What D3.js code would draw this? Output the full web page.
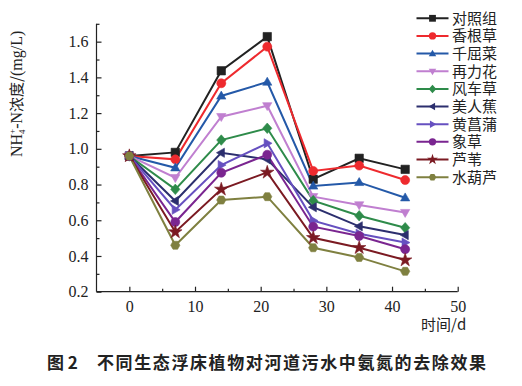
<!DOCTYPE html>
<html><head><meta charset="utf-8">
<script src="https://cdn.jsdelivr.net/npm/d3@7"></script>
<style>body{margin:0;background:#fff}svg{display:block}</style>
</head><body>
<svg id="c" width="522" height="386"></svg>
<script>
const days = [0, 7, 14, 21, 28, 35, 42];
const seriesNames = ["对照组","香根草","千屈菜","再力花","风车草","美人蕉","黄菖蒲","象草","芦苇","水葫芦"];
const s对照组 = [0.96, 0.98, 1.437, 1.628, 0.83, 0.947, 0.885];
const s香根草 = [0.96, 0.941, 1.367, 1.572, 0.876, 0.906, 0.825];
const s千屈菜 = [0.96, 0.894, 1.296, 1.374, 0.792, 0.812, 0.726];
const s再力花 = [0.96, 0.838, 1.18, 1.241, 0.732, 0.686, 0.643];
const s风车草 = [0.96, 0.773, 1.049, 1.115, 0.71, 0.625, 0.558];
const s美人蕉 = [0.96, 0.708, 0.978, 0.941, 0.673, 0.566, 0.517];
const s黄菖蒲 = [0.96, 0.659, 0.909, 1.031, 0.598, 0.525, 0.475];
const s象草 = [0.96, 0.59, 0.866, 0.967, 0.564, 0.512, 0.438];
const s芦苇 = [0.96, 0.534, 0.773, 0.868, 0.502, 0.446, 0.377];
const s水葫芦 = [0.96, 0.46, 0.713, 0.732, 0.446, 0.392, 0.314];
const seriesValues = [s对照组,s香根草,s千屈菜,s再力花,s风车草,s美人蕉,s黄菖蒲,s象草,s芦苇,s水葫芦];
const xTicks = [0,10,20,30,40,50];
const yTicks = [0.2,0.4,0.6,0.8,1.0,1.2,1.4,1.6];
const colors = ["#222222","#ee2a2e","#2459a8","#c07fd0","#2e8b4a","#2c2f6e","#6650c0","#7a2590","#7b1a22","#7f8040"];
const shapes = ["square","circle","triUp","triDown","diamond","triLeft","triRight","circle","star","hex"];

const svg = d3.select("#c");
const x = d3.scaleLinear().domain([-5, 50]).range([96.5, 457.7]);
const y = d3.scaleLinear().domain([0.2, 1.7]).range([291.7, 23.8]);
const numFont = "'Liberation Serif','Times New Roman',serif";
const cjkFont = "'Noto Sans CJK SC',sans-serif";

function shapePath(type, r) {
  switch (type) {
    case "square": return `M${-r},${-r}H${r}V${r}H${-r}Z`;
    case "circle": return d3.symbol(d3.symbolCircle, Math.PI*r*r*1.15)();
    case "triUp": return `M0,${-r*1.15}L${r*1.1},${r*0.75}L${-r*1.1},${r*0.75}Z`;
    case "triDown": return `M0,${r*1.15}L${r*1.1},${-r*0.75}L${-r*1.1},${-r*0.75}Z`;
    case "triLeft": return `M${-r*1.15},0L${r*0.75},${r*1.1}L${r*0.75},${-r*1.1}Z`;
    case "triRight": return `M${r*1.15},0L${-r*0.75},${r*1.1}L${-r*0.75},${-r*1.1}Z`;
    case "diamond": return `M0,${-r*1.25}L${r*1.1},0L0,${r*1.25}L${-r*1.1},0Z`;
    case "star": return d3.symbol(d3.symbolStar, r*r*3.2)();
    case "hex": {
      let p = [];
      for (let i = 0; i < 6; i++) { const a = Math.PI/3*i; p.push([r*1.1*Math.cos(a), r*1.1*Math.sin(a)]); }
      return "M" + p.map(d=>d.join(",")).join("L") + "Z";
    }
  }
}

// axes
const xAxis = d3.axisBottom(x).tickValues(xTicks).tickSize(-5).tickPadding(9).tickFormat(d3.format("d"));
const gx = svg.append("g").attr("transform", "translate(0,291.7)").call(xAxis);
gx.select(".domain").attr("d", `M96.5,0H457.7`);
const xMinor = d3.axisBottom(x).tickValues([5,15,25,35,45]).tickSize(-3).tickFormat("");
const gxm = svg.append("g").attr("transform", "translate(0,291.7)").call(xMinor);
gxm.select(".domain").remove();

const yAxis = d3.axisLeft(y).tickValues(yTicks).tickSize(-5).tickPadding(8).tickFormat(d3.format(".1f"));
const gy = svg.append("g").attr("transform", "translate(96.5,0)").call(yAxis);
gy.select(".domain").attr("d", `M0,${y(0.2)}V${y(1.7)}`);
const yMinor = d3.axisLeft(y).tickValues([0.3,0.5,0.7,0.9,1.1,1.3,1.5,1.7]).tickSize(-3).tickFormat("");
const gym = svg.append("g").attr("transform", "translate(96.5,0)").call(yMinor);
gym.select(".domain").remove();

svg.selectAll(".tick line, .domain").attr("stroke", "#222").attr("stroke-width", 1.2);
svg.selectAll(".tick text").attr("font-family", numFont).attr("font-size", 16).attr("fill", "#222");

// lines
const line = d3.line().x((d,i)=>x(days[i])).y(d=>y(d));
seriesValues.forEach((vals, k) => {
  svg.append("path").datum(vals).attr("d", line).attr("fill", "none")
    .attr("stroke", colors[k]).attr("stroke-width", 2);
});
seriesValues.forEach((vals, k) => {
  svg.append("g").selectAll("path").data(vals).join("path")
    .attr("transform", (d,i)=>`translate(${x(days[i])},${y(d)})`)
    .attr("d", shapePath(shapes[k], 4.2)).attr("fill", colors[k]).attr("stroke", colors[k]).attr("stroke-width", 0.6);
});

// legend
const lg = svg.append("g");
seriesNames.forEach((name, k) => {
  const yy = 18.3 + k * 17.65;
  lg.append("line").attr("x1", 416.5).attr("x2", 448.5).attr("y1", yy).attr("y2", yy)
    .attr("stroke", colors[k]).attr("stroke-width", 2);
  lg.append("path").attr("transform", `translate(432.5,${yy})`).attr("d", shapePath(shapes[k], 3.4))
    .attr("fill", colors[k]);
  lg.append("text").attr("x", 452).attr("y", yy + 5.5).text(name)
    .attr("font-family", cjkFont).attr("font-size", 15).attr("fill", "#222");
});

// axis labels
svg.append("text").attr("x", 421).attr("y", 330).text("时间/d")
  .attr("font-family", cjkFont).attr("font-size", 15).attr("fill", "#222");

const yl = svg.append("text").attr("transform", "translate(22,157) rotate(-90)")
  .attr("font-family", cjkFont).attr("font-size", 15).attr("fill", "#222");
yl.append("tspan").attr("font-family", numFont).attr("font-size", 16).text("NH");
yl.append("tspan").attr("font-family", numFont).attr("font-size", 9).attr("dy", 3).text("4");
yl.append("tspan").attr("font-family", numFont).attr("font-size", 9).attr("dx", -4.5).attr("dy", -10).text("+");
yl.append("tspan").attr("font-family", numFont).attr("font-size", 16).attr("dy", 7).text("-N");
yl.append("tspan").text("浓度/");
yl.append("tspan").attr("font-family", numFont).attr("font-size", 16).text("(mg/L)");

// caption
const cap = svg.append("text").attr("x", 47).attr("y", 369)
  .attr("font-family", cjkFont).attr("font-size", 17).attr("font-weight", "bold").attr("fill", "#222");
cap.append("tspan").text("图 2");
cap.append("tspan").attr("x", 97).attr("letter-spacing", 1.6).text("不同生态浮床植物对河道污水中氨氮的去除效果");
</script>
</body></html>
